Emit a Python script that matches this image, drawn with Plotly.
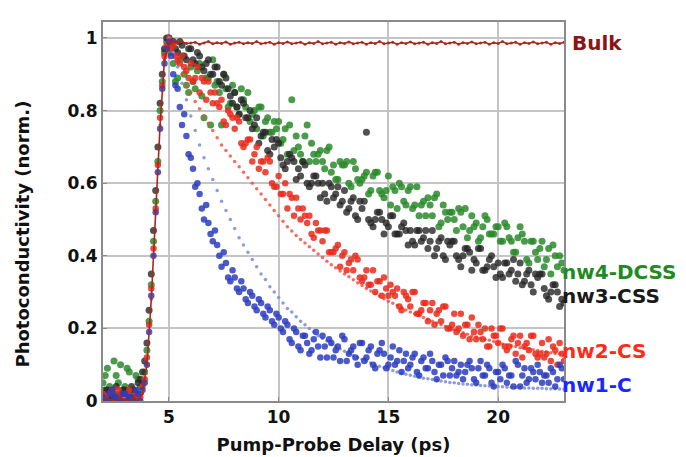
import plotly.graph_objects as go

# Scan A delays (ps)
delay = [2.0,2.2,2.4,2.6,2.8,3.0,3.2,3.4,3.6,3.8,
         4.0,4.2,4.4,4.6,4.8,5.0,5.2,5.4,5.6,5.8,
         6.0,6.2,6.4,6.6,6.8,7.0,7.2,7.4,7.6,7.8,
         8.0,8.2,8.4,8.6,8.8,9.0,9.2,9.4,9.6,9.8,
         10.0,10.2,10.4,10.6,10.8,11.0,11.2,11.4,11.6,11.8,
         12.0,12.2,12.4,12.6,12.8,13.0,13.2,13.4,13.6,13.8,
         14.0,14.2,14.4,14.6,14.8,15.0,15.2,15.4,15.6,15.8,
         16.0,16.2,16.4,16.6,16.8,17.0,17.2,17.4,17.6,17.8,
         18.0,18.2,18.4,18.6,18.8,19.0,19.2,19.4,19.6,19.8,
         20.0,20.2,20.4,20.6,20.8,21.0,21.2,21.4,21.6,21.8,
         22.0,22.2,22.4,22.6,22.8,23.0]

# Scan B delays (ps)
delay_b = [2.1,2.3,2.5,2.7,2.9,3.1,3.3,3.5,3.7,3.9,
           4.1,4.3,4.5,4.7,4.9,5.1,5.3,5.5,5.7,5.9,
           6.1,6.3,6.5,6.7,6.9,7.1,7.3,7.5,7.7,7.9,
           8.1,8.3,8.5,8.7,8.9,9.1,9.3,9.5,9.7,9.9,
           10.1,10.3,10.5,10.7,10.9,11.1,11.3,11.5,11.7,11.9,
           12.1,12.3,12.5,12.7,12.9,13.1,13.3,13.5,13.7,13.9,
           14.1,14.3,14.5,14.7,14.9,15.1,15.3,15.5,15.7,15.9,
           16.1,16.3,16.5,16.7,16.9,17.1,17.3,17.5,17.7,17.9,
           18.1,18.3,18.5,18.7,18.9,19.1,19.3,19.5,19.7,19.9,
           20.1,20.3,20.5,20.7,20.9,21.1,21.3,21.5,21.7,21.9,
           22.1,22.3,22.5,22.7,22.9]

nw1_c = [0.01,0.00,0.03,0.01,0.00,0.02,0.01,0.00,0.02,0.03,
         0.10,0.29,0.52,0.75,0.93,0.99,0.90,0.86,0.76,0.73,
         0.67,0.59,0.57,0.50,0.49,0.44,0.43,0.37,0.38,0.33,
         0.34,0.30,0.31,0.27,0.29,0.25,0.27,0.23,0.25,0.21,
         0.23,0.19,0.21,0.16,0.19,0.14,0.18,0.13,0.17,0.15,
         0.18,0.12,0.16,0.14,0.11,0.17,0.13,0.15,0.10,0.16,
         0.12,0.15,0.09,0.14,0.13,0.10,0.15,0.11,0.08,0.13,
         0.10,0.13,0.07,0.12,0.09,0.11,0.06,0.10,0.12,0.07,
         0.11,0.08,0.06,0.10,0.09,0.05,0.11,0.07,0.09,0.04,
         0.08,0.10,0.05,0.07,0.11,0.04,0.09,0.06,0.08,0.10,
         0.05,0.07,0.09,0.04,0.10,0.06]

nw1_c_b = [0.00,0.02,0.01,0.00,0.02,0.00,0.01,0.03,0.00,0.05,
           0.19,0.40,0.63,0.86,0.97,0.95,0.87,0.81,0.79,0.68,
           0.64,0.60,0.53,0.54,0.46,0.47,0.40,0.41,0.34,0.36,
           0.31,0.33,0.28,0.30,0.26,0.28,0.24,0.26,0.22,0.24,
           0.20,0.22,0.17,0.20,0.15,0.18,0.16,0.14,0.19,0.12,
           0.15,0.17,0.12,0.15,0.18,0.11,0.14,0.12,0.16,0.11,
           0.14,0.10,0.13,0.16,0.09,0.12,0.10,0.14,0.11,0.09,
           0.12,0.08,0.11,0.09,0.13,0.08,0.10,0.07,0.11,0.09,
           0.07,0.10,0.08,0.11,0.06,0.09,0.07,0.10,0.05,0.08,
           0.06,0.09,0.07,0.04,0.10,0.07,0.05,0.09,0.06,0.08,
           0.07,0.05,0.08,0.06,0.09]

nw1_c_fit = [None]*15 + [
         1.0,0.96,0.92,0.875,0.83,
         0.785,0.745,0.705,0.67,0.64,0.61,0.58,0.55,0.525,0.50,
         0.475,0.45,0.43,0.41,0.39,0.37,0.35,0.335,0.315,0.30,
         0.285,0.27,0.255,0.245,0.232,0.22,0.21,0.20,0.19,0.18,
         0.172,0.165,0.157,0.15,0.143,0.137,0.131,0.125,0.12,0.115,
         0.11,0.105,0.10,0.096,0.092,0.088,0.084,0.08,0.077,0.074,
         0.071,0.068,0.066,0.063,0.061,0.059,0.057,0.055,0.053,0.051,
         0.05,0.048,0.047,0.046,0.045,0.044,0.043,0.042,0.041,0.04,
         0.04,0.039,0.038,0.038,0.037,0.037,0.036,0.036,0.035,0.035,
         0.035,0.034,0.034,0.034,0.033,0.033]

nw2_cs = [0.02,0.00,0.03,0.01,0.02,0.00,0.03,0.01,0.02,0.04,
          0.12,0.31,0.53,0.78,0.95,1.00,0.98,0.94,0.95,0.91,
          0.93,0.89,0.85,0.88,0.88,0.82,0.82,0.83,0.76,0.79,
          0.75,0.77,0.70,0.72,0.66,0.70,0.66,0.63,0.66,0.59,
          0.62,0.57,0.53,0.56,0.56,0.50,0.51,0.51,0.45,0.47,
          0.44,0.47,0.41,0.42,0.37,0.41,0.38,0.36,0.39,0.33,
          0.36,0.32,0.30,0.33,0.34,0.29,0.30,0.31,0.25,0.29,
          0.26,0.30,0.24,0.27,0.22,0.27,0.24,0.22,0.26,0.20,
          0.24,0.20,0.18,0.21,0.23,0.17,0.19,0.20,0.15,0.18,
          0.16,0.20,0.14,0.17,0.13,0.18,0.15,0.14,0.18,0.12,
          0.16,0.13,0.11,0.14,0.16,0.11]

nw2_cs_b = [0.01,0.02,0.00,0.03,0.01,0.02,0.00,0.02,0.01,0.06,
            0.21,0.42,0.65,0.87,0.98,0.97,0.95,0.93,0.92,0.89,
            0.88,0.92,0.89,0.83,0.85,0.85,0.81,0.77,0.80,0.78,
            0.78,0.71,0.71,0.72,0.68,0.64,0.66,0.67,0.60,0.59,
            0.57,0.60,0.57,0.51,0.53,0.53,0.49,0.46,0.49,0.47,
            0.47,0.41,0.41,0.43,0.40,0.36,0.39,0.40,0.34,0.34,
            0.32,0.36,0.33,0.29,0.31,0.32,0.29,0.26,0.30,0.28,
            0.30,0.24,0.25,0.27,0.25,0.21,0.25,0.26,0.20,0.21,
            0.19,0.24,0.21,0.17,0.19,0.21,0.17,0.15,0.20,0.18,
            0.20,0.15,0.15,0.18,0.16,0.12,0.16,0.18,0.13,0.13,
            0.12,0.17,0.15,0.10,0.13]

nw2_cs_fit = [None]*15 + [
          1.0,0.96,0.93,0.90,0.87,
          0.85,0.825,0.805,0.785,0.765,0.745,0.725,0.705,0.69,0.675,
          0.66,0.645,0.63,0.615,0.60,0.585,0.57,0.555,0.54,0.525,
          0.51,0.495,0.48,0.468,0.456,0.445,0.435,0.425,0.415,0.405,
          0.395,0.385,0.375,0.367,0.358,0.35,0.342,0.334,0.326,0.318,
          0.31,0.303,0.296,0.289,0.282,0.275,0.269,0.263,0.257,0.251,
          0.245,0.24,0.235,0.23,0.225,0.22,0.215,0.21,0.205,0.20,
          0.196,0.192,0.188,0.184,0.18,0.176,0.173,0.17,0.167,0.164,
          0.16,0.157,0.154,0.152,0.15,0.147,0.145,0.143,0.141,0.139,
          0.137,0.135,0.133,0.131,0.13,0.128]

nw3_css = [0.02,0.03,0.01,0.04,0.02,0.03,0.01,0.03,0.05,0.08,
           0.16,0.35,0.58,0.82,0.97,1.00,0.99,0.96,0.98,0.94,
           0.97,0.93,0.95,0.91,0.94,0.90,0.92,0.87,0.89,0.84,
           0.85,0.79,0.82,0.78,0.75,0.78,0.73,0.74,0.68,0.70,
           0.71,0.65,0.66,0.67,0.61,0.62,0.65,0.59,0.62,0.60,
           0.60,0.55,0.59,0.57,0.54,0.58,0.53,0.56,0.50,0.53,
           0.74,0.49,0.50,0.52,0.46,0.48,0.51,0.46,0.48,0.47,
           0.47,0.43,0.47,0.45,0.42,0.47,0.42,0.45,0.39,0.43,
           0.44,0.39,0.40,0.42,0.36,0.38,0.42,0.36,0.39,0.37,
           0.38,0.34,0.38,0.36,0.33,0.38,0.33,0.36,0.30,0.34,
           0.35,0.29,0.30,0.32,0.26,0.27]

nw3_css_b = [0.03,0.01,0.02,0.00,0.03,0.02,0.04,0.01,0.06,0.11,
             0.25,0.47,0.70,0.90,1.00,0.98,0.97,0.99,0.95,0.97,
             0.94,0.96,0.92,0.93,0.90,0.92,0.88,0.90,0.86,0.82,
             0.81,0.83,0.78,0.80,0.76,0.71,0.74,0.69,0.72,0.72,
             0.67,0.64,0.68,0.66,0.64,0.66,0.60,0.60,0.62,0.56,
             0.57,0.60,0.56,0.59,0.55,0.52,0.55,0.51,0.55,0.55,
             0.50,0.48,0.52,0.50,0.49,0.51,0.46,0.46,0.49,0.43,
             0.44,0.47,0.44,0.47,0.44,0.40,0.44,0.40,0.44,0.44,
             0.40,0.37,0.42,0.41,0.39,0.42,0.36,0.37,0.40,0.34,
             0.35,0.38,0.35,0.39,0.35,0.32,0.35,0.32,0.35,0.35,
             0.31,0.28,0.32,0.30,0.28]

nw4_dcss = [0.05,0.09,0.03,0.07,0.10,0.04,0.08,0.02,0.06,0.05,
            0.14,0.32,0.55,0.80,0.96,1.00,0.93,0.89,0.95,0.87,
            0.92,0.86,0.93,0.78,0.89,0.94,0.88,0.76,0.86,0.82,
            0.85,0.79,0.83,0.85,0.79,0.75,0.81,0.77,0.74,0.77,
            0.77,0.72,0.68,0.83,0.73,0.68,0.73,0.66,0.68,0.68,
            0.66,0.69,0.63,0.61,0.66,0.65,0.60,0.66,0.61,0.61,
            0.63,0.58,0.63,0.58,0.56,0.62,0.59,0.53,0.59,0.54,
            0.59,0.54,0.51,0.55,0.56,0.51,0.57,0.49,0.52,0.52,
            0.50,0.53,0.48,0.45,0.51,0.49,0.45,0.51,0.46,0.46,
            0.48,0.44,0.48,0.44,0.41,0.48,0.44,0.38,0.44,0.39,
            0.44,0.39,0.35,0.40,0.40,0.36]

nw4_dcss_b = [0.07,0.04,0.11,0.05,0.02,0.09,0.03,0.07,0.04,0.08,
              0.22,0.44,0.66,0.88,0.99,0.96,0.88,0.94,0.90,0.85,
              0.88,0.91,0.84,0.89,0.76,0.87,0.85,0.90,0.81,0.87,
              0.81,0.86,0.81,0.77,0.80,0.81,0.73,0.78,0.74,0.75,
              0.71,0.75,0.76,0.69,0.70,0.66,0.76,0.71,0.66,0.69,
              0.64,0.70,0.65,0.61,0.65,0.66,0.59,0.64,0.60,0.62,
              0.57,0.62,0.63,0.57,0.58,0.54,0.58,0.60,0.55,0.58,
              0.53,0.59,0.54,0.51,0.54,0.56,0.48,0.54,0.50,0.52,
              0.47,0.52,0.53,0.47,0.48,0.44,0.48,0.50,0.46,0.48,
              0.44,0.49,0.45,0.41,0.45,0.46,0.39,0.44,0.41,0.42,
              0.37,0.42,0.43,0.37,0.38]

bulk = [0.00,0.01,0.00,0.00,0.01,0.00,0.00,0.01,0.00,0.02,
        0.10,0.28,0.52,0.76,0.94,0.99,0.99,0.985,0.99,0.985,
        0.986,0.988,0.983,0.986,0.990,0.984,0.987,0.985,0.989,0.983,
        0.986,0.988,0.984,0.987,0.985,0.990,0.984,0.986,0.988,0.983,
        0.987,0.985,0.989,0.984,0.986,0.988,0.983,0.987,0.985,0.990,
        0.984,0.986,0.988,0.983,0.987,0.985,0.989,0.984,0.986,0.988,
        0.983,0.987,0.985,0.990,0.984,0.986,0.988,0.983,0.987,0.985,
        0.989,0.984,0.986,0.988,0.983,0.987,0.985,0.990,0.984,0.986,
        0.988,0.983,0.987,0.985,0.989,0.984,0.986,0.988,0.983,0.987,
        0.985,0.990,0.984,0.986,0.988,0.983,0.987,0.985,0.989,0.984,
        0.986,0.988,0.983,0.987,0.985,0.988]

x_ticks = [5, 10, 15, 20]
y_ticks = [0, 0.2, 0.4, 0.6, 0.8, 1]
y_tick_labels = ["0", "0.2", "0.4", "0.6", "0.8", "1"]

labels = ["Bulk", "nw4-DCSS", "nw3-CSS", "nw2-CS", "nw1-C"]
label_y = [0.986, 0.356, 0.29, 0.137, 0.044]
label_colors = ["#8e1414", "#1f8a1f", "#1a1a1a", "#ff2a1a", "#1a28ff"]

FONT = "DejaVu Sans"

fig = go.Figure()

def add_scatter(x, y, color, size, opacity=0.85, mode="markers", line_width=0):
    fig.add_trace(go.Scatter(
        x=x, y=y, mode=mode,
        marker=dict(color=color, size=size, opacity=opacity, line=dict(width=0)),
        line=dict(color=color, width=line_width) if "lines" in mode else None,
        showlegend=False, hoverinfo="skip"))

GREEN, BLACK, RED, BLUE = "#2a8a2a", "#262626", "#ea2a1c", "#2c3cc0"
add_scatter(delay, nw4_dcss, GREEN, 7, 0.85)
add_scatter(delay_b, nw4_dcss_b, GREEN, 7, 0.85)
add_scatter(delay, nw3_css, BLACK, 7, 0.8)
add_scatter(delay_b, nw3_css_b, BLACK, 7, 0.8)
add_scatter(delay, nw2_cs_fit, "#f04a3a", 3.5, 0.8)
add_scatter(delay, nw2_cs, RED, 6.5, 0.85)
add_scatter(delay_b, nw2_cs_b, RED, 6.5, 0.85)
add_scatter(delay, nw1_c_fit, "#8090d8", 3.5, 0.9)
add_scatter(delay, nw1_c, BLUE, 6.5, 0.85)
add_scatter(delay_b, nw1_c_b, BLUE, 6.5, 0.85)
add_scatter(delay, bulk, "#a8281c", 3, 0.9, mode="lines+markers", line_width=1.6)

for t, yy, c in zip(labels, label_y, label_colors):
    fig.add_annotation(text="<b>%s</b>" % t, xref="paper", yref="y", x=1.0, y=yy,
                       xanchor="left", yanchor="middle", showarrow=False,
                       xshift=6 if t == "Bulk" else -4,
                       font=dict(family=FONT, size=20, color=c))

fig.add_annotation(text="<b>Photoconductivity (norm.)</b>", xref="paper", yref="paper",
                   x=-0.175, y=0.44, xanchor="center", yanchor="middle", textangle=-90,
                   showarrow=False, font=dict(family=FONT, size=18, color="#111"))

fig.update_layout(
    width=686, height=457,
    margin=dict(l=95, r=130, t=12, b=64),
    paper_bgcolor="white", plot_bgcolor="white",
    font=dict(family=FONT, color="#111"),
    xaxis=dict(range=[2, 23], tickvals=x_ticks, ticktext=["<b>%d</b>" % v for v in x_ticks],
               tickfont=dict(size=17, family=FONT, color="#111"),
               showgrid=True, gridcolor="#c4c4c4", gridwidth=2,
               showline=True, linecolor="#8a8a8a", linewidth=2, mirror=True,
               ticks="inside", ticklen=4, tickcolor="#8a8a8a", zeroline=False,
               title=dict(text="<b>Pump-Probe Delay (ps)</b>", font=dict(size=18, family=FONT, color="#111"), standoff=12)),
    yaxis=dict(range=[0, 1.044], tickvals=y_ticks, ticktext=["<b>%s</b>" % s for s in y_tick_labels],
               tickfont=dict(size=17, family=FONT, color="#111"),
               showgrid=True, gridcolor="#c4c4c4", gridwidth=2,
               showline=True, linecolor="#8a8a8a", linewidth=2, mirror=True,
               ticks="inside", ticklen=4, tickcolor="#8a8a8a", zeroline=False),
)

fig.write_html("out.html")
